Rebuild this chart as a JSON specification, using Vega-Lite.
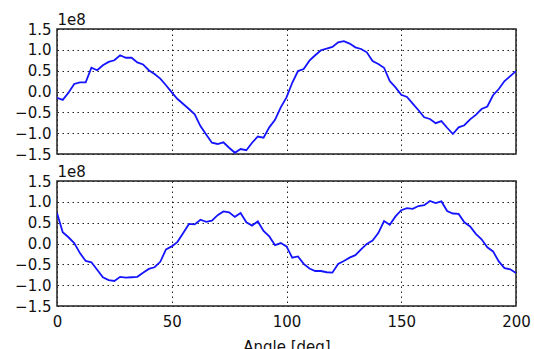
{
  "$schema": "https://vega.github.io/schema/vega-lite/v6.json",
  "padding": {"left": 13, "top": 11, "right": 5, "bottom": 5},
  "spacing": 0,
  "datasets": {
    "top": [
      {"angle": 0, "value": -15000000}, {"angle": 2.5, "value": -20000000}, {"angle": 5, "value": -3000000}, {"angle": 7.5, "value": 18000000}, {"angle": 10, "value": 22000000},
      {"angle": 12.5, "value": 22000000}, {"angle": 15, "value": 57000000}, {"angle": 17.5, "value": 51000000}, {"angle": 20, "value": 63000000}, {"angle": 22.5, "value": 71000000},
      {"angle": 25, "value": 75000000}, {"angle": 27.5, "value": 87000000}, {"angle": 30, "value": 81000000}, {"angle": 32.5, "value": 81000000}, {"angle": 35, "value": 70000000},
      {"angle": 37.5, "value": 65000000}, {"angle": 40, "value": 51000000}, {"angle": 42.5, "value": 42000000}, {"angle": 45, "value": 31000000}, {"angle": 47.5, "value": 15000000},
      {"angle": 50, "value": -2000000}, {"angle": 52.5, "value": -18000000}, {"angle": 55, "value": -30000000}, {"angle": 57.5, "value": -42000000}, {"angle": 60, "value": -55000000},
      {"angle": 62.5, "value": -83000000}, {"angle": 65, "value": -103000000}, {"angle": 67.5, "value": -123000000}, {"angle": 70, "value": -126000000}, {"angle": 72.5, "value": -122000000},
      {"angle": 75, "value": -135000000}, {"angle": 77.5, "value": -147000000}, {"angle": 80, "value": -138000000}, {"angle": 82.5, "value": -141000000}, {"angle": 85, "value": -123000000},
      {"angle": 87.5, "value": -108000000}, {"angle": 90, "value": -111000000}, {"angle": 92.5, "value": -86000000}, {"angle": 95, "value": -68000000}, {"angle": 97.5, "value": -38000000},
      {"angle": 100, "value": -14000000}, {"angle": 102.5, "value": 21000000}, {"angle": 105, "value": 49000000}, {"angle": 107.5, "value": 54000000}, {"angle": 110, "value": 74000000},
      {"angle": 112.5, "value": 87000000}, {"angle": 115, "value": 99000000}, {"angle": 117.5, "value": 103000000}, {"angle": 120, "value": 107000000}, {"angle": 122.5, "value": 118000000},
      {"angle": 125, "value": 121000000}, {"angle": 127.5, "value": 115000000}, {"angle": 130, "value": 106000000}, {"angle": 132.5, "value": 102000000}, {"angle": 135, "value": 94000000},
      {"angle": 137.5, "value": 73000000}, {"angle": 140, "value": 66000000}, {"angle": 142.5, "value": 57000000}, {"angle": 145, "value": 25000000}, {"angle": 147.5, "value": 10000000},
      {"angle": 150, "value": -8000000}, {"angle": 152.5, "value": -13000000}, {"angle": 155, "value": -29000000}, {"angle": 157.5, "value": -45000000}, {"angle": 160, "value": -62000000},
      {"angle": 162.5, "value": -66000000}, {"angle": 165, "value": -76000000}, {"angle": 167.5, "value": -71000000}, {"angle": 170, "value": -87000000}, {"angle": 172.5, "value": -102000000},
      {"angle": 175, "value": -86000000}, {"angle": 177.5, "value": -81000000}, {"angle": 180, "value": -67000000}, {"angle": 182.5, "value": -56000000}, {"angle": 185, "value": -42000000},
      {"angle": 187.5, "value": -36000000}, {"angle": 190, "value": -9000000}, {"angle": 192.5, "value": 6000000}, {"angle": 195, "value": 25000000}, {"angle": 197.5, "value": 37000000},
      {"angle": 200, "value": 49000000}
    ],
    "bottom": [
      {"angle": 0, "value": 73000000}, {"angle": 2.5, "value": 27000000}, {"angle": 5, "value": 15000000}, {"angle": 7.5, "value": 1000000}, {"angle": 10, "value": -23000000},
      {"angle": 12.5, "value": -42000000}, {"angle": 15, "value": -45000000}, {"angle": 17.5, "value": -63000000}, {"angle": 20, "value": -81000000}, {"angle": 22.5, "value": -88000000},
      {"angle": 25, "value": -90000000}, {"angle": 27.5, "value": -80000000}, {"angle": 30, "value": -82000000}, {"angle": 32.5, "value": -81000000}, {"angle": 35, "value": -80000000},
      {"angle": 37.5, "value": -70000000}, {"angle": 40, "value": -61000000}, {"angle": 42.5, "value": -57000000}, {"angle": 45, "value": -44000000}, {"angle": 47.5, "value": -14000000},
      {"angle": 50, "value": -7000000}, {"angle": 52.5, "value": 4000000}, {"angle": 55, "value": 25000000}, {"angle": 57.5, "value": 47000000}, {"angle": 60, "value": 46000000},
      {"angle": 62.5, "value": 57000000}, {"angle": 65, "value": 52000000}, {"angle": 67.5, "value": 55000000}, {"angle": 70, "value": 68000000}, {"angle": 72.5, "value": 77000000},
      {"angle": 75, "value": 75000000}, {"angle": 77.5, "value": 64000000}, {"angle": 80, "value": 73000000}, {"angle": 82.5, "value": 51000000}, {"angle": 85, "value": 43000000},
      {"angle": 87.5, "value": 53000000}, {"angle": 90, "value": 30000000}, {"angle": 92.5, "value": 17000000}, {"angle": 95, "value": -4000000}, {"angle": 97.5, "value": 1000000},
      {"angle": 100, "value": -7000000}, {"angle": 102.5, "value": -34000000}, {"angle": 105, "value": -31000000}, {"angle": 107.5, "value": -49000000}, {"angle": 110, "value": -60000000},
      {"angle": 112.5, "value": -66000000}, {"angle": 115, "value": -66000000}, {"angle": 117.5, "value": -69000000}, {"angle": 120, "value": -70000000}, {"angle": 122.5, "value": -49000000},
      {"angle": 125, "value": -42000000}, {"angle": 127.5, "value": -34000000}, {"angle": 130, "value": -28000000}, {"angle": 132.5, "value": -14000000}, {"angle": 135, "value": -1000000},
      {"angle": 137.5, "value": 7000000}, {"angle": 140, "value": 25000000}, {"angle": 142.5, "value": 54000000}, {"angle": 145, "value": 45000000}, {"angle": 147.5, "value": 65000000},
      {"angle": 150, "value": 80000000}, {"angle": 152.5, "value": 85000000}, {"angle": 155, "value": 83000000}, {"angle": 157.5, "value": 90000000}, {"angle": 160, "value": 92000000},
      {"angle": 162.5, "value": 102000000}, {"angle": 165, "value": 97000000}, {"angle": 167.5, "value": 101000000}, {"angle": 170, "value": 78000000}, {"angle": 172.5, "value": 72000000},
      {"angle": 175, "value": 71000000}, {"angle": 177.5, "value": 51000000}, {"angle": 180, "value": 41000000}, {"angle": 182.5, "value": 23000000}, {"angle": 185, "value": 10000000},
      {"angle": 187.5, "value": -9000000}, {"angle": 190, "value": -19000000}, {"angle": 192.5, "value": -43000000}, {"angle": 195, "value": -59000000}, {"angle": 197.5, "value": -62000000},
      {"angle": 200, "value": -71000000}
    ]
  },
  "config": {
    "font": "DejaVu Sans",
    "view": {"stroke": "#222222", "strokeWidth": 1.5},
    "axis": {
      "labelFont": "DejaVu Sans", "labelFontSize": 15, "labelColor": "#111111",
      "ticks": false, "domain": false, "grid": true,
      "gridColor": "#222222", "gridDash": [1.5, 3.5], "gridWidth": 1, "gridOpacity": 1,
      "labelPadding": 6,
      "titleFont": "DejaVu Sans", "titleFontSize": 15, "titleFontWeight": "normal", "titleColor": "#111111"
    }
  },
  "vconcat": [
    {
      "width": 459, "height": 125,
      "data": {"name": "top"},
      "mark": {"type": "line", "color": "#1414ff", "strokeWidth": 1.8, "clip": true},
      "encoding": {
        "x": {"field": "angle", "type": "quantitative", "scale": {"domain": [0, 200], "nice": false},
              "axis": {"values": [0, 50, 100, 150, 200], "labels": false, "title": null}},
        "y": {"field": "value", "type": "quantitative", "scale": {"domain": [-150000000, 150000000], "nice": false, "zero": false},
              "axis": {"values": [-150000000, -100000000, -50000000, 0, 50000000, 100000000, 150000000],
                       "labelExpr": "format(datum.value / 1e8, '.1f')",
                       "title": "1e8", "titleAngle": 0, "titleX": 0, "titleY": -5, "titleAlign": "left", "titleBaseline": "alphabetic"}}
      }
    },
    {
      "width": 459, "height": 125,
      "data": {"name": "bottom"},
      "mark": {"type": "line", "color": "#1414ff", "strokeWidth": 1.8, "clip": true},
      "encoding": {
        "x": {"field": "angle", "type": "quantitative", "scale": {"domain": [0, 200], "nice": false},
              "axis": {"values": [0, 50, 100, 150, 200], "labelFlush": false, "labelPadding": 8, "title": "Angle [deg]", "titlePadding": 10}},
        "y": {"field": "value", "type": "quantitative", "scale": {"domain": [-150000000, 150000000], "nice": false, "zero": false},
              "axis": {"values": [-150000000, -100000000, -50000000, 0, 50000000, 100000000, 150000000],
                       "labelExpr": "format(datum.value / 1e8, '.1f')",
                       "title": "1e8", "titleAngle": 0, "titleX": 0, "titleY": -5, "titleAlign": "left", "titleBaseline": "alphabetic"}}
      }
    }
  ]
}
